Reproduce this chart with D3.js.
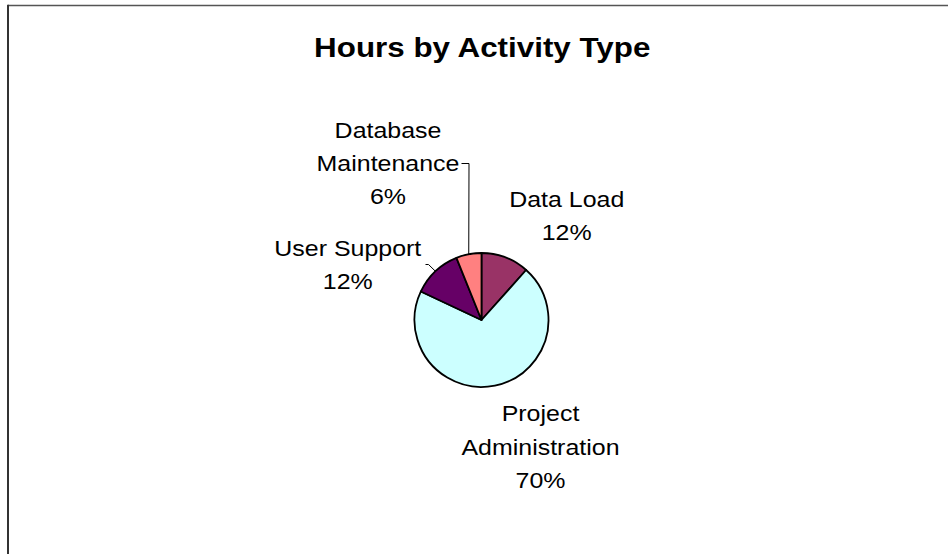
<!DOCTYPE html>
<html>
<head>
<meta charset="utf-8">
<script src="https://cdn.jsdelivr.net/npm/d3@7/dist/d3.min.js"></script>
<style>
  html, body { margin: 0; padding: 0; background: #fff; }
  svg { display: block; }
  text { font-family: "Liberation Sans", Arial, sans-serif; fill: #000; }
</style>
</head>
<body>
<svg id="chart" width="948" height="554"></svg>
<script>
// ---- data ----
const categories = ["Data Load", "Project Administration", "User Support", "Database Maintenance"];
const hoursShare = [11.6, 70.4, 11.9, 6.1];
const sliceColors = ["#993366", "#CCFFFF", "#660066", "#FF8080"];
const chartTitle = "Hours by Activity Type";

// ---- layout ----
const W = 948, H = 554;
const cx = 481.5, cy = 320, R = 67;
const lineH = 33.4;
const labelLayout = {
  "Data Load":               { x: 566.7, y: 206.7, lines: ["Data Load"] },
  "Project Administration":  { x: 540.5, y: 421.5, lines: ["Project", "Administration"] },
  "User Support":            { x: 347.8, y: 256,   lines: ["User Support"] },
  "Database Maintenance":    { x: 388,   y: 137.7, lines: ["Database", "Maintenance"] }
};

const svg = d3.select("#chart");
svg.append("rect").attr("width", W).attr("height", H).attr("fill", "#fff");

// frame (chart area border, cropped on right/bottom)
svg.append("line").attr("x1", 8).attr("x2", W + 5).attr("y1", 5.5).attr("y2", 5.5)
  .attr("stroke", "#555").attr("stroke-width", 1.4);
svg.append("line").attr("x1", 8).attr("x2", 8).attr("y1", 4.8).attr("y2", H + 5)
  .attr("stroke", "#333").attr("stroke-width", 2);

// title
svg.append("g").attr("transform", `translate(482.2,57) scale(1.12,1)`)
  .append("text").attr("text-anchor", "middle")
  .attr("font-size", 28).attr("font-weight", "bold").text(chartTitle);

// pie
const total = d3.sum(hoursShare);
const data = categories.map((c, i) => ({ name: c, value: hoursShare[i], color: sliceColors[i] }));
const pie = d3.pie().value(d => d.value).sort(null).startAngle(0).endAngle(2 * Math.PI);
const arcs = pie(data);
const arc = d3.arc().innerRadius(0).outerRadius(R);

const g = svg.append("g").attr("transform", `translate(${cx},${cy})`);
g.selectAll("path").data(arcs).join("path")
  .attr("d", arc)
  .attr("fill", d => d.data.color)
  .attr("stroke", "#000")
  .attr("stroke-width", 1.8)
  .attr("stroke-linejoin", "round");

// leader lines
const edgePt = (a, r) => [cx + r * Math.sin(a), cy - r * Math.cos(a)];
arcs.forEach(d => {
  const mid = (d.startAngle + d.endAngle) / 2;
  const [ex, ey] = edgePt(mid, R);
  if (d.data.name === "Database Maintenance") {
    svg.append("path")
      .attr("d", `M461.5,163.5 L469,163.5 L${ex},${ey}`)
      .attr("fill", "none").attr("stroke", "#000").attr("stroke-width", 1);
  } else if (d.data.name === "User Support") {
    svg.append("path")
      .attr("d", `M425.5,264.5 L428.5,264.5 L${ex},${ey}`)
      .attr("fill", "none").attr("stroke", "#000").attr("stroke-width", 1);
  }
});

// labels
arcs.forEach(d => {
  const L = labelLayout[d.data.name];
  const pct = Math.round(d.data.value / total * 100) + "%";
  const lines = L.lines.concat([pct]);
  const lg = svg.append("g").attr("transform", `translate(${L.x},0) scale(1.085,1)`);
  lines.forEach((t, i) => {
    lg.append("text").attr("text-anchor", "middle")
      .attr("x", 0).attr("y", L.y + i * lineH)
      .attr("font-size", 23).text(t);
  });
});
</script>
</body>
</html>
